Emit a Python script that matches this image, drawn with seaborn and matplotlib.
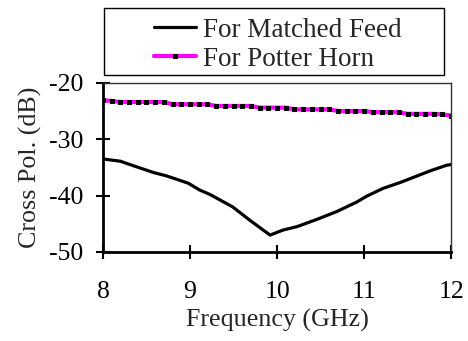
import pandas as pd
import matplotlib.pyplot as plt
import seaborn as sns

# data
freq_matched = [8.0, 8.2, 8.35, 8.58, 8.73, 8.98, 9.11, 9.23, 9.49, 9.69, 9.92,
                10.07, 10.23, 10.46, 10.69, 10.92, 11.03, 11.22, 11.41, 11.76, 11.95, 12.0]
xpol_matched = [-33.5, -33.9, -34.7, -35.9, -36.5, -37.8, -39.0, -39.8, -42.0, -44.4, -47.0,
                -46.1, -45.5, -44.2, -42.8, -41.1, -40.1, -38.7, -37.7, -35.6, -34.6, -34.5]

freq_potter = [8.0, 8.1, 8.2, 8.3, 8.4, 8.5, 8.6, 8.7, 8.8, 8.9, 9.0, 9.1, 9.2,
               9.3, 9.4, 9.5, 9.6, 9.7, 9.8, 9.9, 10.0, 10.1, 10.2, 10.3, 10.4,
               10.5, 10.6, 10.7, 10.8, 10.9, 11.0, 11.1, 11.2, 11.3, 11.4, 11.5,
               11.6, 11.7, 11.8, 11.9, 12.0]
xpol_potter = [-23.1, -23.2, -23.4, -23.4, -23.4, -23.4, -23.4, -23.4, -23.8, -23.8,
               -23.8, -23.8, -23.8, -24.1, -24.1, -24.1, -24.1, -24.1, -24.4, -24.4,
               -24.4, -24.4, -24.7, -24.7, -24.7, -24.7, -24.7, -25.0, -25.0, -25.0,
               -25.0, -25.2, -25.2, -25.2, -25.2, -25.5, -25.5, -25.5, -25.5, -25.6, -25.8]

x_ticks = [8, 9, 10, 11, 12]
y_ticks = [-50, -40, -30, -20]

sns.set_style("ticks")
plt.rcParams['font.family'] = ['Liberation Serif', 'DejaVu Serif']
plt.rcParams['axes.unicode_minus'] = False

fig = plt.figure(figsize=(4.68, 3.41), dpi=100)
ax = fig.add_axes([0.220, 0.261, 0.744, 0.496])

sns.lineplot(x=freq_matched, y=xpol_matched, ax=ax, color='black', linewidth=2.3,
             label='For Matched Feed')
sns.lineplot(x=freq_potter, y=xpol_potter, ax=ax, color='#ff00ff', linewidth=3.0,
             marker='s', markersize=2.6, markerfacecolor='black', markeredgecolor='black',
             label='For Potter Horn')

ax.set_xlim(8, 12)
ax.set_ylim(-50, -20)
ax.set_xticks(x_ticks)
ax.set_yticks(y_ticks)
ax.set_xticklabels([str(t) for t in x_ticks])
ax.set_yticklabels([str(t) for t in y_ticks])
ax.set_xlabel('Frequency (GHz)', fontsize=18.7, labelpad=4)
ax.set_ylabel('Cross Pol. (dB)', fontsize=18.7, labelpad=5)
ax.tick_params(direction='inout', length=10, width=1.5, colors='black', labelsize=18.5)
ax.tick_params(axis='x', pad=16)
ax.tick_params(axis='y', pad=9)

for side in ['left', 'bottom']:
    ax.spines[side].set_linewidth(2.0)
    ax.spines[side].set_color('black')
for side in ['top', 'right']:
    ax.spines[side].set_visible(True)
    ax.spines[side].set_linewidth(1.0)
    ax.spines[side].set_color('#333333')

handles, labels = ax.get_legend_handles_labels()
ax.get_legend().remove()
leg = fig.legend(handles, labels, loc='center', bbox_to_anchor=(0.594, 0.869),
                 frameon=False, fontsize=19.5, handlelength=1.55, handletextpad=0.25,
                 borderpad=0.0, labelspacing=0.15)
# legend frame spanning the width seen in the reference
fig.add_artist(plt.Rectangle((104 / 468, 1 - 75 / 341), 340 / 468, 67 / 341,
                             transform=fig.transFigure, fill=False,
                             edgecolor='black', linewidth=1.0))

fig.savefig('out.png', dpi=100)
